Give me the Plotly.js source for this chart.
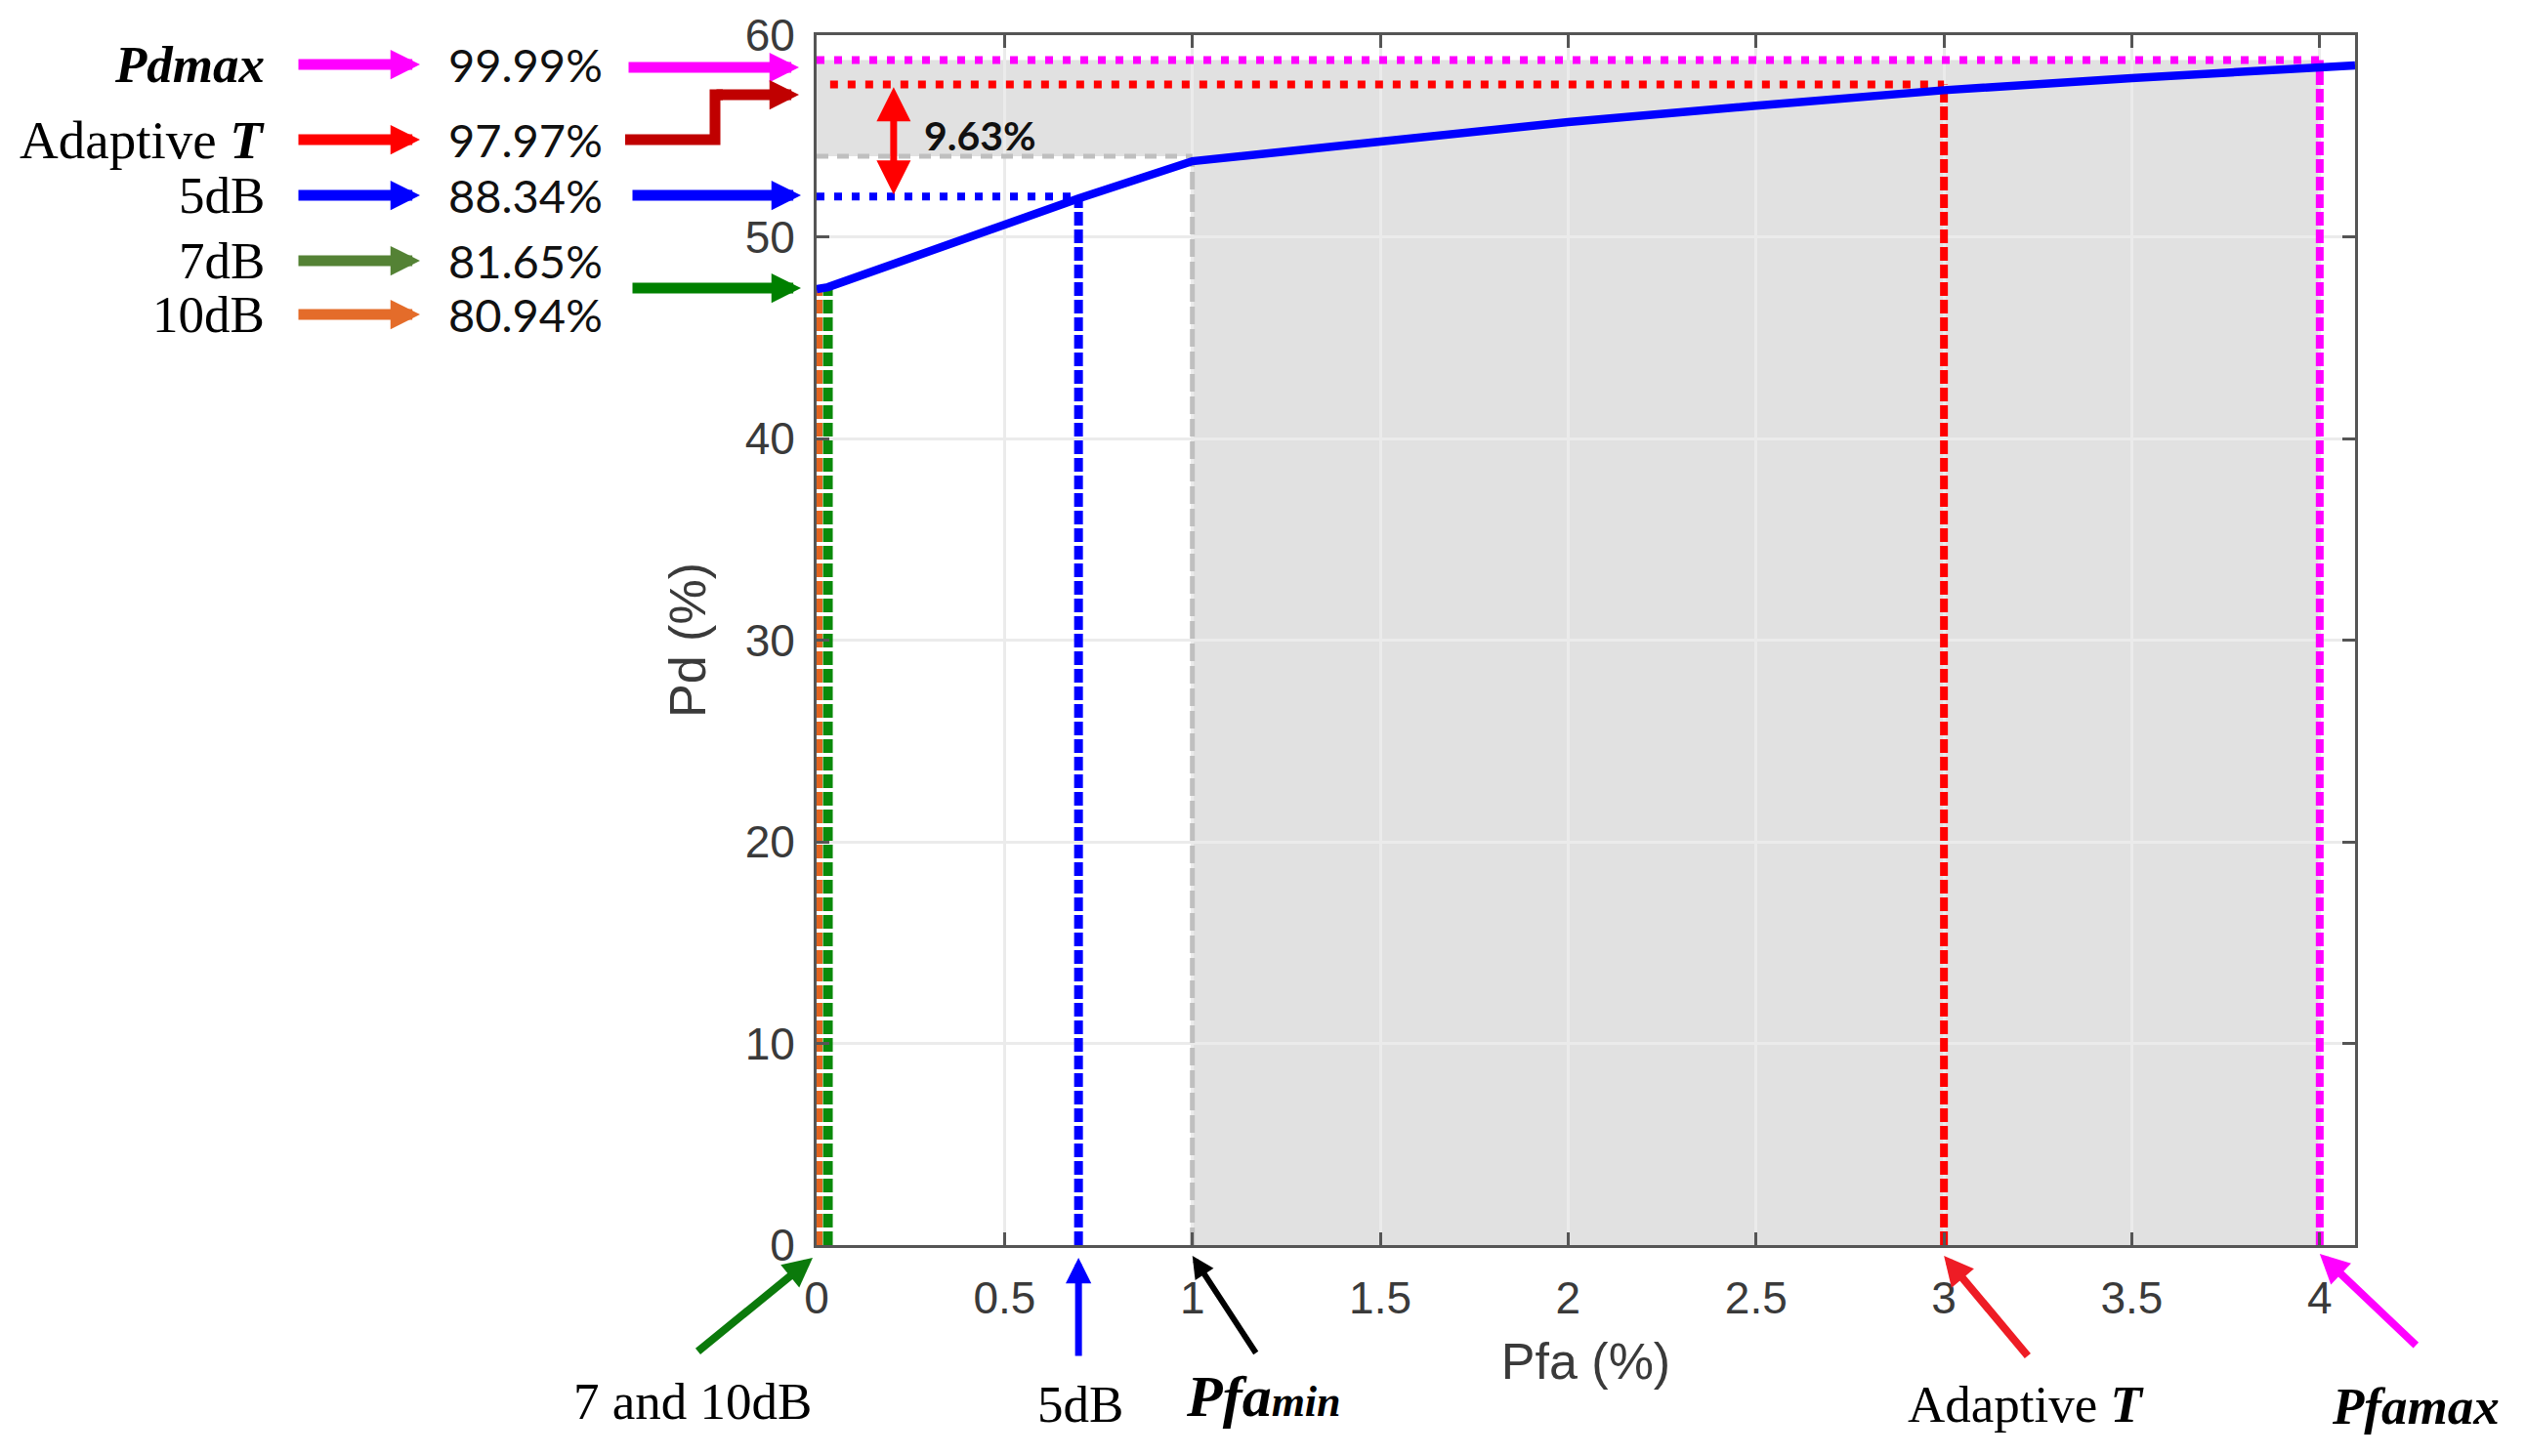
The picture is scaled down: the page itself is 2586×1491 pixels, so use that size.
<!DOCTYPE html>
<html>
<head>
<meta charset="utf-8">
<script src="https://cdn.plot.ly/plotly-3.0.1.min.js"></script>
<style>html,body{margin:0;padding:0;background:#fff;}#chart{width:2586px;height:1491px;}</style>
</head>
<body>
<div id="chart"></div>
<script>
// ---- data ----
const curvePfa = [0, 0.03, 0.697, 1.0, 1.5, 2.0, 2.5, 3.0, 3.5, 4.0, 4.094];
const curvePd  = [47.4, 47.5, 51.9, 53.75, 54.72, 55.69, 56.5, 57.27, 57.87, 58.4, 58.5];

// operating points: Pfa and Pd
const pt10dbPfa = 0.004, pt10dbPd = 47.4;
const pt7dbPfa  = 0.03,  pt7dbPd  = 47.5;
const pt5dbPfa  = 0.697, pt5dbPd  = 52.0;
const pfaMin    = 1.0,   pfaMinPd = 53.75, pfaMinLevel = 54.0;
const adaptPfa  = 3.0,   adaptPd  = 57.55, adaptStart = 0.036;
const pfaMax    = 4.0,   pdMax    = 58.76;
const gapFrom   = 52.1,  gapTo    = 57.5, gapX = 0.205;
const gapLabel  = '9.63%';

const leftNames  = ['<b><i>Pdmax</i></b>', 'Adaptive <b><i>T</i></b>', '5dB', '7dB', '10dB'];
const leftValues = ['99.99%', '97.97%', '88.34%', '81.65%', '80.94%'];
const bottomNames = ['7 and 10dB', '5dB', "<b><i><span style='font-size:60px'>Pfa</span>min</i></b>", 'Adaptive <b><i>T</i></b>', '<b><i>Pfamax</i></b>'];

const xTicks = [0, 0.5, 1, 1.5, 2, 2.5, 3, 3.5, 4];
const yTicks = [0, 10, 20, 30, 40, 50, 60];

// ---- layout helpers (pixel positions -> paper) ----
const L = 836, R = 2411, T = 36, B = 1275;
const xp = px => (px - L) / (R - L);
const yp = py => (B - py) / (B - T);

const HDOT = '8px,10px';
const VDASH = '14px,4px';

function vline(x, y1, color, w, dash) {
  return {x: [x, x], y: [0, y1], mode: 'lines', line: {color: color, width: w, dash: dash}, hoverinfo: 'skip', showlegend: false};
}
function hline(x0, x1, y, color, w, dash) {
  return {x: [x0, x1], y: [y, y], mode: 'lines', line: {color: color, width: w, dash: dash}, hoverinfo: 'skip', showlegend: false};
}

const traces = [
  vline(pt10dbPfa, pt10dbPd, '#E2641F', 9, VDASH),
  vline(pt7dbPfa, pt7dbPd, '#0A8A0A', 10, VDASH),
  vline(pt5dbPfa, pt5dbPd, '#0000FF', 9, VDASH),
  vline(pfaMin, pfaMinPd, '#BFBFBF', 5, '18px,5px'),
  vline(adaptPfa, adaptPd, '#FF0000', 8, VDASH),
  vline(pfaMax, pdMax, '#FF00FF', 8, VDASH),
  hline(0, pfaMin, pfaMinLevel, '#BFBFBF', 5, '12px,9px'),
  hline(0, pt5dbPfa, pt5dbPd, '#0000FF', 8, HDOT),
  hline(adaptStart, adaptPfa, adaptPd, '#FF0000', 8, HDOT),
  hline(0, pfaMax, pdMax, '#FF00FF', 8, HDOT),
  {x: curvePfa, y: curvePd, mode: 'lines', line: {color: '#0000FF', width: 8.5}, hoverinfo: 'skip', showlegend: false}
];

const serif = {family: 'Liberation Serif, Times New Roman, serif', size: 53, color: '#000'};
const pctFont = {family: 'Lato, Open Sans, sans-serif', size: 47, color: '#111'};

const annotations = [];
const leftY = [66, 143, 200, 267, 322];
const leftColors = ['#FF00FF', '#FF0000', '#0000FF', '#548235', '#E46C2A'];
for (let i = 0; i < leftNames.length; i++) {
  annotations.push({xref: 'paper', yref: 'paper', x: xp(273), y: yp(leftY[i]), xanchor: 'right', yanchor: 'middle',
    text: leftNames[i], showarrow: false, font: (i === 1 ? Object.assign({}, serif, {size: 55}) : serif)});
  annotations.push({xref: 'paper', yref: 'paper', x: xp(538), y: yp(leftY[i]), xanchor: 'center', yanchor: 'middle',
    text: leftValues[i], showarrow: false, font: pctFont});
  annotations.push({xref: 'paper', yref: 'paper', x: xp(430), y: yp(leftY[i]), ax: -126, ay: 0, text: '',
    showarrow: true, arrowhead: 2, arrowsize: 0.55, arrowwidth: 11, arrowcolor: leftColors[i]});
}
// long arrows to the Pd axis
annotations.push({xref: 'paper', yref: 'paper', x: xp(818), y: yp(69), ax: -176, ay: 0, text: '',
  showarrow: true, arrowhead: 2, arrowsize: 0.55, arrowwidth: 11, arrowcolor: '#FF00FF'});
annotations.push({xref: 'paper', yref: 'paper', x: xp(820), y: yp(200), ax: -174, ay: 0, text: '',
  showarrow: true, arrowhead: 2, arrowsize: 0.55, arrowwidth: 11, arrowcolor: '#0000FF'});
annotations.push({xref: 'paper', yref: 'paper', x: xp(820), y: yp(295), ax: -174, ay: 0, text: '',
  showarrow: true, arrowhead: 2, arrowsize: 0.55, arrowwidth: 11, arrowcolor: '#008000'});
annotations.push({xref: 'paper', yref: 'paper', x: xp(818), y: yp(97), ax: -86, ay: 0, text: '',
  showarrow: true, arrowhead: 2, arrowsize: 0.55, arrowwidth: 11, arrowcolor: '#C00000'});

// bottom arrows
annotations.push({xref: 'paper', yref: 'paper', x: xp(832), y: yp(1288), ax: -119, ay: 97, text: '',
  showarrow: true, arrowhead: 2, arrowsize: 0.75, arrowwidth: 8, arrowcolor: '#0B7A0B'});
annotations.push({xref: 'x', yref: 'paper', x: pt5dbPfa, y: yp(1288), ax: 0, ay: 102, text: '',
  showarrow: true, arrowhead: 2, arrowsize: 0.75, arrowwidth: 7, arrowcolor: '#0000FF'});
annotations.push({xref: 'x', yref: 'paper', x: pfaMin, y: yp(1286), ax: 66, ay: 101, text: '',
  showarrow: true, arrowhead: 2, arrowsize: 0.75, arrowwidth: 6, arrowcolor: '#000000'});
annotations.push({xref: 'x', yref: 'paper', x: adaptPfa, y: yp(1286), ax: 87, ay: 104, text: '',
  showarrow: true, arrowhead: 2, arrowsize: 0.75, arrowwidth: 8, arrowcolor: '#EE1C25'});
annotations.push({xref: 'x', yref: 'paper', x: pfaMax, y: yp(1284), ax: 100, ay: 95, text: '',
  showarrow: true, arrowhead: 2, arrowsize: 0.75, arrowwidth: 8, arrowcolor: '#FF00FF'});

const bottomX = [709, 1106, 1293, 2074, 2473];
const bottomY = [1435, 1438, 1430, 1438, 1440];
const bottomSize = [53, 53, 44, 53, 53];
for (let i = 0; i < bottomNames.length; i++) {
  annotations.push({xref: 'paper', yref: 'paper', x: xp(bottomX[i]), y: yp(bottomY[i]), xanchor: 'center', yanchor: 'middle',
    text: bottomNames[i], showarrow: false, font: Object.assign({}, serif, {size: bottomSize[i]})});
}

// 9.63% gap arrow and label
annotations.push({xref: 'x', yref: 'y', axref: 'x', ayref: 'y', x: gapX, y: gapFrom, ax: gapX, ay: gapTo, text: '',
  showarrow: true, arrowside: 'end+start', arrowhead: 2, startarrowhead: 2, arrowsize: 1.0, startarrowsize: 1.0,
  arrowwidth: 7, arrowcolor: '#FF0000'});
annotations.push({xref: 'paper', yref: 'paper', x: xp(1003), y: yp(139), xanchor: 'center', yanchor: 'middle',
  text: '<b>' + gapLabel + '</b>', showarrow: false, font: {family: 'Lato, Open Sans, sans-serif', size: 41, color: '#111'}});

const shapes = [
  // L-shaped shaded region: Pfa >= Pfamin or Pd >= Pd(Pfamin), bounded by Pfamax / Pdmax
  {type: 'path', xref: 'x', yref: 'y', layer: 'below', line: {width: 0}, fillcolor: '#E1E1E1',
   path: `M0,${pfaMinLevel} L${pfaMin},${pfaMinLevel} L${pfaMin},0 L${pfaMax},0 L${pfaMax},${pdMax} L0,${pdMax} Z`},
  // dark red elbow connector
  {type: 'path', xref: 'paper', yref: 'paper', layer: 'above', line: {color: '#C00000', width: 11},
   path: `M${xp(640)},${yp(143)} L${xp(732)},${yp(143)} L${xp(732)},${yp(97)} L${xp(740)},${yp(97)}`}
];

const axisCommon = {
  showgrid: true, gridcolor: '#EBEBEB', gridwidth: 3, zeroline: false,
  showline: true, mirror: 'ticks', linecolor: '#555555', linewidth: 3,
  ticks: 'inside', ticklen: 13, tickwidth: 3, tickcolor: '#555555',
  tickfont: {family: 'Liberation Sans, Arial, sans-serif', size: 46, color: '#3a3a3a'}
};

const layout = {
  width: 2586, height: 1491, autosize: false,
  margin: {l: L, r: 2586 - R, t: T, b: 1491 - B, pad: 0},
  paper_bgcolor: '#ffffff', plot_bgcolor: '#ffffff',
  showlegend: false,
  xaxis: Object.assign({}, axisCommon, {range: [0, 4.094], tickvals: xTicks, ticktext: xTicks.map(String),
    ticklabelstandoff: 12,
    title: {text: 'Pfa (%)', standoff: 22, font: {family: 'Liberation Sans, Arial, sans-serif', size: 52, color: '#3a3a3a'}}}),
  yaxis: Object.assign({}, axisCommon, {range: [0, 60], tickvals: yTicks, ticktext: yTicks.map(String),
    ticklabelstandoff: 10,
    title: {text: 'Pd (%)', standoff: 24, font: {family: 'Liberation Sans, Arial, sans-serif', size: 52, color: '#3a3a3a'}}}),
  annotations: annotations,
  shapes: shapes
};

Plotly.newPlot('chart', traces, layout, {staticPlot: true, displayModeBar: false});
</script>
</body>
</html>
